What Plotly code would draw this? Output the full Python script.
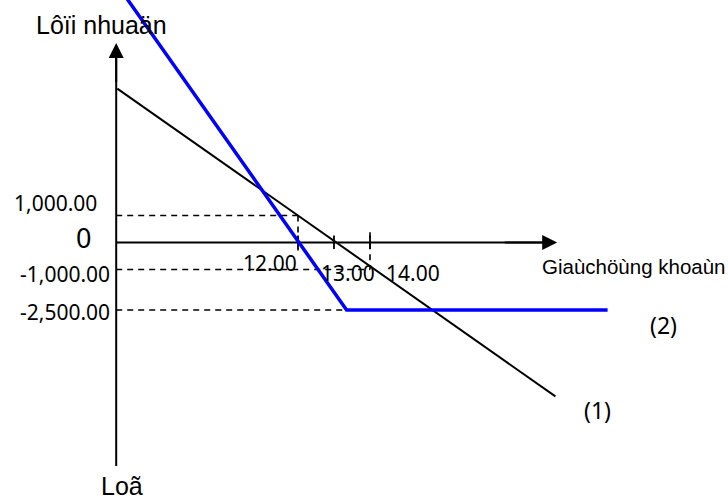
import plotly.graph_objects as go

# ---- data (price of the stock vs profit) ----
tick_prices = [12, 13, 14]
tick_labels = ["12.00", "13.00", "14.00"]
profit_levels = [1000, 0, -1000, -2500]
profit_labels = ["1,000.00", "0", "-1,000.00", "-2,500.00"]

# strategy (1): black straight line
line1_price = [6.98, 19.15]
line1_profit = [5700, -5700]
# strategy (2): blue line with floor
line2_price = [7.2, 13.35, 20.6]
line2_profit = [9124, -2500, -2500]

# guide points (dashed)
guide_price = [12, 14, 13.35]
guide_profit = [1000, -1000, -2500]

axis_price = 6.95          # where the profit axis stands
axis_price_end = 19.2      # arrow tip of price axis
axis_profit_top = 7390     # arrow tip of profit axis
axis_profit_bottom = -8280

fig = go.Figure()

# dashed horizontal guides
gx, gy = [], []
for p, v in zip(guide_price, guide_profit):
    gx += [axis_price, p, None]
    gy += [v, v, None]
# dashed vertical guides at 12 and 14
gx += [12, 12, None, 14, 14, None]
gy += [1000, -300, None, 380, -1000, None]
fig.add_trace(go.Scatter(x=gx, y=gy, mode="lines",
                         line=dict(color="black", width=1.6, dash="6px,5px"),
                         hoverinfo="skip", showlegend=False))

# solid tick marks
tx, ty = [], []
for p in tick_prices:
    tx += [p, p, None]
    ty += [260, -240, None]
fig.add_trace(go.Scatter(x=tx, y=ty, mode="lines",
                         line=dict(color="black", width=1.8),
                         hoverinfo="skip", showlegend=False))

# axes lines
fig.add_trace(go.Scatter(x=[axis_price, axis_price], y=[axis_profit_bottom, axis_profit_top - 400],
                         mode="lines", line=dict(color="black", width=2),
                         hoverinfo="skip", showlegend=False))
fig.add_trace(go.Scatter(x=[axis_price, axis_price_end - 0.3], y=[0, 0],
                         mode="lines", line=dict(color="black", width=2),
                         hoverinfo="skip", showlegend=False))

# strategy lines
fig.add_trace(go.Scatter(x=line1_price, y=line1_profit, mode="lines",
                         line=dict(color="black", width=2),
                         hoverinfo="skip", showlegend=False))
fig.add_trace(go.Scatter(x=line2_price, y=line2_profit, mode="lines",
                         line=dict(color="#0000ff", width=3.5),
                         hoverinfo="skip", showlegend=False))

# arrow heads
fig.add_annotation(x=axis_price, y=axis_profit_top, ax=axis_price, ay=axis_profit_top - 1500,
                   xref="x", yref="y", axref="x", ayref="y", text="",
                   showarrow=True, arrowhead=2, arrowsize=1.5, arrowwidth=2, arrowcolor="black")
fig.add_annotation(x=axis_price_end, y=0, ax=axis_price_end - 1.5, ay=0,
                   xref="x", yref="y", axref="x", ayref="y", text="",
                   showarrow=True, arrowhead=2, arrowsize=1.5, arrowwidth=2, arrowcolor="black")

num_font = dict(family="Noto Sans", size=21, color="black")
arial = dict(family="Liberation Sans, Arial", size=25, color="black")

# profit labels
label_pos = {1000: (6.47, 1450), 0: (6.3, 200), -1000: (6.84, -1160), -2500: (6.84, -2560)}
for v, lab in zip(profit_levels, profit_labels):
    f = dict(num_font)
    if lab == "0":
        f["size"] = 27
    x0, y0 = label_pos[v]
    fig.add_annotation(x=x0, y=y0, text=lab, showarrow=False,
                       xanchor="right", yanchor="middle", font=f)
# price labels
for p, lab in zip(tick_prices, tick_labels):
    pos = {12: (11.22, -760), 13: (13.39, -1130), 14: (15.19, -1130)}[p]
    fig.add_annotation(x=pos[0], y=pos[1], text=lab, showarrow=False,
                       xanchor="center", yanchor="middle", font=num_font)

fig.add_annotation(x=6.55, y=8060, text="Lôïi nhuaän", showarrow=False,
                   xanchor="center", yanchor="middle", font=arial)
fig.add_annotation(x=18.72, y=-900, text="Giaùchöùng khoaùn", showarrow=False,
                   xanchor="left", yanchor="middle",
                   font=dict(family="Liberation Sans, Arial", size=20.5, color="black"))
fig.add_annotation(x=7.11, y=-9020, text="Loã", showarrow=False,
                   xanchor="center", yanchor="middle", font=arial)
fig.add_annotation(x=22.14, y=-3060, text="(2)", showarrow=False,
                   xanchor="center", yanchor="middle", font=dict(family="Noto Sans", size=23, color="black"))
fig.add_annotation(x=20.31, y=-6200, text="(1)", showarrow=False,
                   xanchor="center", yanchor="middle", font=dict(family="Noto Sans", size=23, color="black"))

fig.update_layout(
    width=728, height=503, autosize=False,
    margin=dict(l=0, r=0, t=0, b=0),
    paper_bgcolor="white", plot_bgcolor="white",
    xaxis=dict(range=[3.7222, 23.9444], visible=False, fixedrange=True),
    yaxis=dict(range=[-9648.1, 8981.5], visible=False, fixedrange=True),
    showlegend=False,
)

fig.write_html("out.html", config={"displayModeBar": False},
               post_script="document.body.style.margin='0';document.body.style.overflow='hidden';")
